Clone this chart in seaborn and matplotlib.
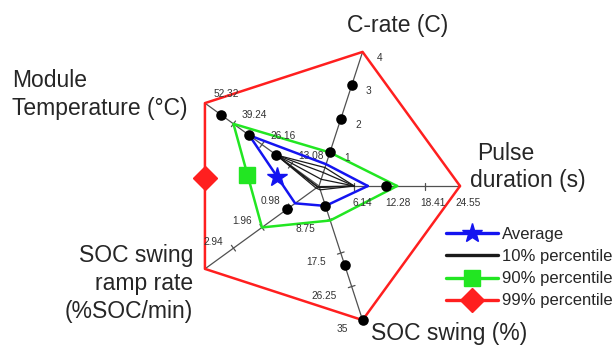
import numpy as np
import pandas as pd
import matplotlib
matplotlib.use("Agg")
import matplotlib.pyplot as plt
from matplotlib.lines import Line2D
import seaborn as sns

# ---------------- data ----------------
# spokes, counter-clockwise starting at 3 o'clock
spokes = ["Pulse duration", "C-rate", "Module temperature",
          "SOC swing ramp rate", "SOC swing"]
spoke_max = [24.55, 4.0, 52.32, 3.92, 35.0]

pulse_ticks = ["6.14", "12.28", "18.41", "24.55"]
crate_ticks = ["1", "2", "3", "4"]
temp_ticks = ["13.08", "26.16", "39.24", "52.32"]
ramp_ticks = ["0.98", "1.96", "2.94"]
swing_ticks = ["8.75", "17.5", "26.25", "35"]

# series values in spoke order
average = [8.5, 0.65, 32.0, 0.82, 5.2]
pct90 = [13.6, 1.0, 39.24, 1.96, 9.0]
pct99 = [24.55, 4.0, 52.32, 3.92, 35.0]
pct10_a = [6.14, 0.55, 19.6, 0.05, 0.4]
pct10_b = [6.14, 0.40, 19.6, 0.10, 1.0]
pct10_c = [6.14, 0.20, 19.6, 0.04, 0.2]

# individual operating points (spoke index, value)
point_spoke = [1, 1, 1, 2, 2, 2, 0, 4, 4, 4, 3]
point_value = [1.0, 2.0, 3.0, 45.0, 32.0, 19.6, 11.7, 5.2, 20.6, 35.0, 1.1]

# ---------------- layout ----------------
W, H = 614, 345
cx, cy, R = 319.0, 186.0, 141.0
angles = np.radians([0, 72, 144, 216, 288])

sns.set_theme(style="white")
plt.rcParams["font.family"] = ["Liberation Sans", "DejaVu Sans"]

fig = plt.figure(figsize=(W / 100, H / 100), dpi=100)
ax = fig.add_axes([0, 0, 1, 1])


def to_xy(i, value):
    f = value / spoke_max[i]
    return cx + R * f * np.cos(angles[i]), cy - R * f * np.sin(angles[i])


def polygon_frame(values):
    pts = [to_xy(i, v) for i, v in enumerate(values)]
    pts.append(pts[0])
    return pd.DataFrame({"x": [p[0] for p in pts], "y": [p[1] for p in pts],
                         "order": range(len(pts))})


# spokes with small cross ticks
axis_col = "#505050"
for i in range(5):
    ex, ey = to_xy(i, spoke_max[i])
    ax.plot([cx, ex], [cy, ey], color=axis_col, lw=0.9, zorder=1)
    ux, uy = np.cos(angles[i]), -np.sin(angles[i])
    px, py = -uy, ux
    for f in (0.25, 0.5, 0.75):
        tx, ty = to_xy(i, spoke_max[i] * f)
        ax.plot([tx - 3.5 * px, tx + 3.5 * px], [ty - 3.5 * py, ty + 3.5 * py],
                color=axis_col, lw=0.9, zorder=1)

# series polygons
series = [
    (pct99, "#ff1f1f", 1.8, 2),
    (pct90, "#22e622", 1.8, 3),
    (average, "#1414f0", 1.8, 4),
    (pct10_a, "#1a1a1a", 0.9, 5),
    (pct10_b, "#1a1a1a", 0.9, 5),
    (pct10_c, "#1a1a1a", 0.9, 5),
]
for values, col, lw, z in series:
    df = polygon_frame(values)
    sns.lineplot(data=df, x="x", y="y", sort=False, estimator=None,
                 color=col, lw=lw, ax=ax, zorder=z)

# series markers on the temperature / ramp-rate edge
for values, col, mk, ms, s in [(pct99, "#ff1f1f", "D", 12, 0.45),
                               (pct90, "#22e622", "s", 12, 0.49),
                               (average, "#1414f0", "*", 15, 0.61)]:
    x0, y0 = to_xy(2, values[2])
    x1, y1 = to_xy(3, values[3])
    ax.plot([x0 + s * (x1 - x0)], [y0 + s * (y1 - y0)], marker=mk, ms=ms,
            color=col, mec=col, zorder=7)

# operating points
pts = pd.DataFrame([to_xy(i, v) for i, v in zip(point_spoke, point_value)],
                   columns=["x", "y"])
sns.scatterplot(data=pts, x="x", y="y", color="black", s=58,
                edgecolor="black", linewidth=0, ax=ax, zorder=8)

# tick labels
tick_col = "#333333"
tfs = 7.3
for k, lab in enumerate(crate_ticks):
    x, y = to_xy(1, spoke_max[1] * (k + 1) / 4)
    ax.text(x + 17, y + 6, lab, fontsize=tfs, color=tick_col, ha="center", va="center")
for k, lab in enumerate(temp_ticks):
    x, y = to_xy(2, spoke_max[2] * (k + 1) / 4)
    ax.text(x + 21, y - 9, lab, fontsize=tfs, color=tick_col, ha="center", va="center")
for k, lab in enumerate(pulse_ticks):
    x, y = to_xy(0, spoke_max[0] * (k + 1) / 4)
    ax.text(x + 8, y + 17, lab, fontsize=tfs, color=tick_col, ha="center", va="center")
for k, lab in enumerate(swing_ticks):
    x, y = to_xy(4, spoke_max[4] * (k + 1) / 4)
    ax.text(x - 14.5, y + 9, lab, fontsize=tfs, color=tick_col, ha="right", va="center")
for k, lab in enumerate(ramp_ticks):
    x, y = to_xy(3, spoke_max[3] * (k + 1) / 4)
    ax.text(x - 20, y - 6, lab, fontsize=tfs, color=tick_col, ha="center", va="center")

# spoke titles
tfs2 = 16.5
ax.text(398, 32, "C-rate (C)", fontsize=tfs2, ha="center", va="baseline")
ax.text(477, 160, "Pulse", fontsize=tfs2, ha="left", va="baseline")
ax.text(470, 187, "duration (s)", fontsize=tfs2, ha="left", va="baseline")
ax.text(12, 87, "Module", fontsize=tfs2, ha="left", va="baseline")
ax.text(12, 115, "Temperature (°C)", fontsize=tfs2, ha="left", va="baseline")
ax.text(193, 262, "SOC swing", fontsize=tfs2, ha="right", va="baseline")
ax.text(193, 290, "ramp rate", fontsize=tfs2, ha="right", va="baseline")
ax.text(193, 318, "(%SOC/min)", fontsize=tfs2, ha="right", va="baseline")
ax.text(371, 340, "SOC swing (%)", fontsize=tfs2, ha="left", va="baseline")

# legend
handles = [
    Line2D([], [], color="#1414f0", lw=2.4, marker="*", ms=15),
    Line2D([], [], color="#1a1a1a", lw=2.4),
    Line2D([], [], color="#22e622", lw=2.4, marker="s", ms=12),
    Line2D([], [], color="#ff1f1f", lw=2.4, marker="D", ms=12),
]
labels = ["Average", "10% percentile", "90% percentile", "99% percentile"]
ax.legend(handles, labels, loc="upper left", bbox_to_anchor=(446, 227),
          bbox_transform=ax.transData, frameon=False, fontsize=12,
          handlelength=3.1, handletextpad=0.25, labelspacing=0.43,
          borderpad=0, borderaxespad=0)

ax.set_xlim(0, W)
ax.set_ylim(H, 0)
ax.set_xlabel("")
ax.set_ylabel("")
ax.axis("off")

fig.savefig("out.png", dpi=100, facecolor="white")
